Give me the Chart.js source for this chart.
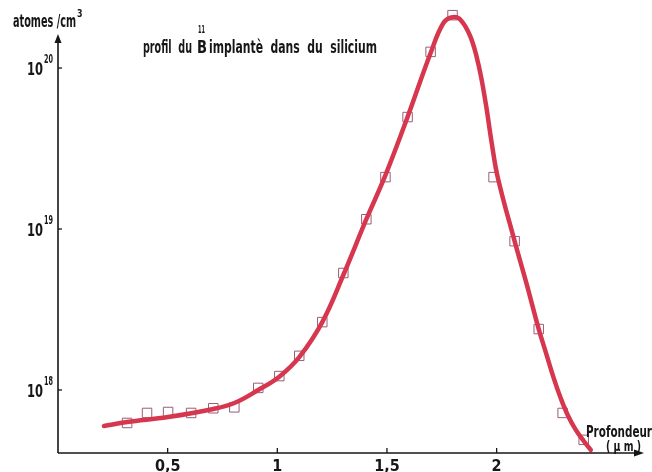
<!DOCTYPE html>
<html><head><meta charset="utf-8">
<script src="https://cdn.jsdelivr.net/npm/chart.js@4/dist/chart.umd.min.js"></script>
<style>html,body{margin:0;padding:0;background:#fff}#wrap{width:652px;height:472px}</style>
</head><body><div id="wrap"><canvas id="c" width="652" height="472"></canvas></div>
<script>
// Smooth fitted profile (depth in µm, concentration in atoms/cm3)
const curveDepth = [0.21,0.315,0.502,0.708,0.804,0.913,1.009,1.100,1.205,1.301,1.406,1.493,1.594,1.699,1.758,1.799,1.836,1.881,1.918,1.950,1.977,2.005,2.082,2.137,2.192,2.224,2.260,2.292,2.324,2.361,2.397,2.429];
const curveConc  = [5.97e17,6.32e17,6.79e17,7.62e17,8.30e17,1.00e18,1.21e18,1.60e18,2.64e18,5.18e18,1.15e19,2.16e19,4.97e19,1.24e20,1.91e20,2.07e20,1.99e20,1.56e20,1.04e20,6.07e19,3.47e19,2.10e19,8.41e18,4.55e18,2.39e18,1.72e18,1.19e18,8.91e17,7.00e17,5.65e17,4.82e17,4.24e17];
// Measured points (squares)
const sampleDepth = [0.315,0.406,0.502,0.607,0.708,0.804,0.913,1.009,1.100,1.205,1.301,1.406,1.493,1.594,1.699,1.799,1.986,2.082,2.192,2.301,2.397];
const sampleConc  = [6.24e17,7.20e17,7.30e17,7.20e17,7.70e17,7.80e17,1.03e18,1.22e18,1.63e18,2.64e18,5.33e18,1.15e19,2.10e19,4.96e19,1.26e20,2.13e20,2.10e19,8.40e18,2.39e18,7.20e17,4.90e17];
// Tick labels
const xTickValues = [0.5,1,1.5,2];
const xTickLabels = ['0,5','1','1,5','2'];
const yTickValues = [1e18,1e19,1e20];
const yTickBase = '10';
const yTickExponents = ['18','19','20'];

const FONT = "'Liberation Sans Narrow','DejaVu Sans Condensed','DejaVu Sans',sans-serif";
const INK = '#161616';

function fitText(ctx, txt, x, y, w, size){
  ctx.save();
  ctx.font = 'bold ' + size + 'px ' + FONT;
  const m = ctx.measureText(txt).width;
  ctx.translate(x, y);
  ctx.scale(w / m, 1);
  ctx.fillText(txt, 0, 0);
  ctx.restore();
}

const decor = {
  id: 'decor',
  afterDraw(chart){
    const ctx = chart.ctx;
    const xs = chart.scales.x, ys = chart.scales.y;
    const x0 = xs.getPixelForValue(0);
    const yb = chart.chartArea.bottom;
    ctx.save();
    ctx.strokeStyle = INK; ctx.fillStyle = INK; ctx.lineWidth = 1.6;
    // y axis
    const yTop = 34;
    ctx.beginPath(); ctx.moveTo(x0, yb); ctx.lineTo(x0, yTop + 6); ctx.stroke();
    ctx.beginPath(); ctx.moveTo(x0, yTop); ctx.lineTo(x0 - 3.5, yTop + 9); ctx.lineTo(x0 + 3.5, yTop + 9); ctx.closePath(); ctx.fill();
    // x axis
    const xEnd = 644;
    ctx.beginPath(); ctx.moveTo(x0, yb); ctx.lineTo(xEnd - 6, yb); ctx.stroke();
    ctx.beginPath(); ctx.moveTo(xEnd, yb); ctx.lineTo(xEnd - 10, yb - 3.5); ctx.lineTo(xEnd - 10, yb + 3.5); ctx.closePath(); ctx.fill();
    // ticks
    ctx.lineWidth = 1.3;
    yTickValues.forEach(v => { const p = ys.getPixelForValue(v); ctx.beginPath(); ctx.moveTo(x0, p); ctx.lineTo(x0 + 4, p); ctx.stroke(); });
    xTickValues.forEach(v => { const p = xs.getPixelForValue(v); ctx.beginPath(); ctx.moveTo(p, yb); ctx.lineTo(p, yb - 5); ctx.stroke(); });
    // texts
    ctx.textBaseline = 'alphabetic'; ctx.textAlign = 'left';
    // y tick labels: 10 with exponent, placed at the scale's tick positions
    yTickValues.forEach((v, i) => {
      const p = ys.getPixelForValue(v);
      fitText(ctx, yTickBase, 27, p + 7, 16, 18);
      fitText(ctx, yTickExponents[i], 44, p - 5, 9, 12);
    });
    fitText(ctx, 'atomes /cm', 13, 27, 63, 17);
    fitText(ctx, '3', 77, 17, 5.5, 11);
    fitText(ctx, 'profil  du', 143, 53, 49, 18);
    fitText(ctx, 'B', 197, 53, 10, 18);
    fitText(ctx, '11', 198, 33, 7, 11);
    fitText(ctx, 'implantè  dans  du  silicium', 209, 53, 168, 18);
    fitText(ctx, 'Profondeur', 586, 437, 66, 15);
    fitText(ctx, '( µ m )', 606, 451, 35, 14);
    ctx.restore();
  }
};

new Chart(document.getElementById('c'), {
  type: 'scatter',
  data: {
    datasets: [
      {
        label: 'profil',
        data: curveDepth.map((d, i) => ({x: d, y: curveConc[i]})),
        showLine: true, pointRadius: 0, borderColor: '#d6374f', borderWidth: 4.5,
        tension: 0.4, order: 0, fill: false, borderCapStyle: 'round', borderJoinStyle: 'round'
      },
      {
        label: 'mesures',
        data: sampleDepth.map((d, i) => ({x: d, y: sampleConc[i]})),
        showLine: false, pointStyle: 'rect', pointRadius: 6.7, pointBorderWidth: 1,
        pointBorderColor: '#9a5c78', pointBackgroundColor: 'rgba(0,0,0,0)', order: 1
      }
    ]
  },
  options: {
    responsive: false, animation: false, devicePixelRatio: 1,
    layout: {padding: {left: 0, right: 8, top: 8, bottom: 0}},
    plugins: {legend: {display: false}, tooltip: {enabled: false}},
    scales: {
      x: {
        type: 'linear', min: 0, max: 2.672,
        grid: {display: false, drawTicks: false, tickLength: 0}, border: {display: false},
        afterBuildTicks: s => { s.ticks = xTickValues.map(v => ({value: v})); },
        afterFit: s => { s.height = 19; s.paddingLeft = 0; s.paddingRight = 0; },
        ticks: {
          padding: 4, color: INK, font: {family: FONT, size: 16, weight: 'bold'},
          maxRotation: 0, autoSkip: false,
          callback: v => { const i = xTickValues.indexOf(v); return i >= 0 ? xTickLabels[i] : ''; }
        }
      },
      y: {
        type: 'logarithmic', min: 4.06e17, max: 2.36e20,
        grid: {display: false, drawTicks: false, tickLength: 0}, border: {display: false},
        afterBuildTicks: s => { s.ticks = yTickValues.map(v => ({value: v})); },
        afterFit: s => { s.width = 58; s.paddingTop = 0; s.paddingBottom = 0; },
        ticks: { display: false }
      }
    }
  },
  plugins: [decor]
});
</script></body></html>
